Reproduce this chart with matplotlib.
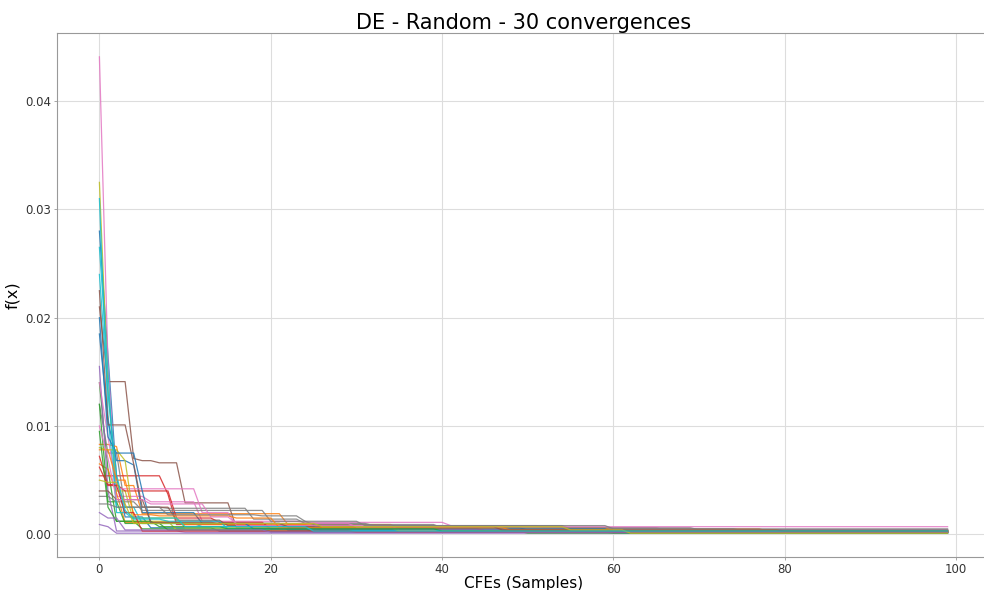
import matplotlib
matplotlib.use("Agg")
import matplotlib.pyplot as plt
import numpy as np

# 30 次收斂曲線 (best-so-far)，以 (改善發生的樣本, 新數值) 表示
n_samples = 100
runs = [
    [(0, 0.0280), (1, 0.0165), (2, 0.0052), (3, 0.0016), (6, 0.0006), (14, 0.0003), (45, 0.00018)],
    [(0, 0.0083), (2, 0.0081), (3, 0.0045), (5, 0.0019), (22, 0.0009), (35, 0.0005), (78, 0.0003)],
    [(0, 0.0140), (1, 0.0060), (2, 0.0012), (5, 0.0005), (25, 0.0002), (60, 0.00012)],
    [(0, 0.0054), (8, 0.0037), (9, 0.0009), (20, 0.0005), (45, 0.0004), (83, 0.0002)],
    [(0, 0.0009), (1, 0.0007), (2, 0.0001)],
    [(0, 0.0210), (1, 0.0141), (4, 0.0070), (5, 0.0068), (7, 0.0066), (10, 0.0029), (16, 0.0006), (40, 0.0004), (66, 0.0003)],
    [(0, 0.0441), (1, 0.0158), (2, 0.0035), (6, 0.0030), (12, 0.0012), (24, 0.0011), (41, 0.0008), (52, 0.0006), (66, 0.0004), (88, 0.00033)],
    [(0, 0.0120), (1, 0.0075), (3, 0.0025), (8, 0.0024), (18, 0.0014), (24, 0.0010), (32, 0.0008), (55, 0.0005), (75, 0.00035)],
    [(0, 0.0325), (1, 0.0135), (2, 0.0040), (4, 0.0012), (9, 0.0004), (30, 0.0002)],
    [(0, 0.0310), (1, 0.0110), (2, 0.0025), (5, 0.0010), (12, 0.0007), (26, 0.0003), (61, 0.00015)],
    [(0, 0.0185), (1, 0.0105), (2, 0.0068), (4, 0.0064), (5, 0.0020), (12, 0.0010), (22, 0.0004), (50, 0.0002)],
    [(0, 0.0065), (1, 0.0060), (2, 0.0038), (3, 0.0011), (10, 0.0009), (25, 0.0006), (60, 0.0003)],
    [(0, 0.0120), (1, 0.0030), (3, 0.0010), (8, 0.0004), (20, 0.00025), (50, 0.00012)],
    [(0, 0.0072), (1, 0.0046), (3, 0.0040), (9, 0.0015), (14, 0.0011), (20, 0.0005), (45, 0.0003)],
    [(0, 0.0155), (1, 0.0040), (2, 0.0003), (10, 0.0002)],
    [(0, 0.0225), (1, 0.0101), (4, 0.0065), (5, 0.0025), (9, 0.0013), (15, 0.0008), (30, 0.0006), (50, 0.0004)],
    [(0, 0.0140), (1, 0.0090), (2, 0.0042), (12, 0.0020), (16, 0.0008), (35, 0.0004)],
    [(0, 0.0035), (2, 0.0030), (5, 0.0022), (20, 0.0012), (25, 0.0009), (40, 0.0006), (70, 0.0004)],
    [(0, 0.0080), (1, 0.0078), (3, 0.0068), (4, 0.0015), (10, 0.0006), (35, 0.0003)],
    [(0, 0.0265), (1, 0.0150), (2, 0.0020), (4, 0.0014), (8, 0.0012), (15, 0.0005), (40, 0.0002)],
    [(0, 0.0200), (1, 0.0090), (2, 0.0075), (5, 0.0040), (6, 0.0010), (18, 0.0005), (60, 0.0002)],
    [(0, 0.0078), (2, 0.0050), (4, 0.0018), (7, 0.0017), (16, 0.0015), (21, 0.0006), (48, 0.0004), (80, 0.00025)],
    [(0, 0.0095), (1, 0.0025), (2, 0.0012), (7, 0.0007), (15, 0.0005), (40, 0.0003)],
    [(0, 0.0062), (1, 0.0045), (3, 0.0020), (5, 0.0003), (30, 0.0002)],
    [(0, 0.0020), (1, 0.0015), (3, 0.0004), (20, 0.0002)],
    [(0, 0.0040), (2, 0.0032), (6, 0.0011), (14, 0.0010), (22, 0.0007), (47, 0.0004), (80, 0.0003)],
    [(0, 0.0100), (1, 0.0070), (2, 0.0032), (6, 0.0028), (13, 0.0016), (16, 0.0010), (30, 0.0007)],
    [(0, 0.0028), (2, 0.0025), (8, 0.0018), (19, 0.0017), (24, 0.0012), (31, 0.0008), (60, 0.0005)],
    [(0, 0.0050), (1, 0.0048), (3, 0.0028), (4, 0.0010), (26, 0.0007), (55, 0.0004), (62, 0.0001)],
    [(0, 0.0240), (1, 0.0130), (2, 0.0055), (3, 0.0022), (4, 0.0015), (10, 0.0007), (25, 0.0003)],
]

title = "DE - Random - 30 convergences"
x_label = "CFEs (Samples)"
y_label = "f(x)"


def expand(run):
    # 每個數值維持到下一次改善為止
    starts = [s for s, _ in run] + [n_samples]
    values = [v for _, v in run]
    return np.repeat(values, np.diff(starts))


fig = plt.figure(figsize=(9.84, 5.90), dpi=100)
ax = fig.add_axes([57 / 984, 1 - 557 / 590, 933 / 984, 524 / 590])

samples = np.arange(n_samples)
for run in runs:
    ax.plot(samples, expand(run), linewidth=0.9, alpha=0.85)

ax.set_title(title, fontsize=15, pad=3)
ax.set_xlabel(x_label, fontsize=11, labelpad=0)
ax.set_ylabel(y_label, fontsize=11.5, labelpad=3)
ax.set_xticks([0, 20, 40, 60, 80, 100])
ax.set_yticks([0.0, 0.01, 0.02, 0.03, 0.04])
ax.set_yticklabels(["0.00", "0.01", "0.02", "0.03", "0.04"])
ax.tick_params(labelsize=8.5, labelcolor="#333333", length=2.5, width=0.6,
               color="#999999", pad=2)
ax.grid(True, color="#dddddd", linewidth=0.8)
ax.set_axisbelow(True)
for spine in ax.spines.values():
    spine.set_color("#999999")
    spine.set_linewidth(0.8)

plt.savefig("out.png", dpi=100)
plt.close()
